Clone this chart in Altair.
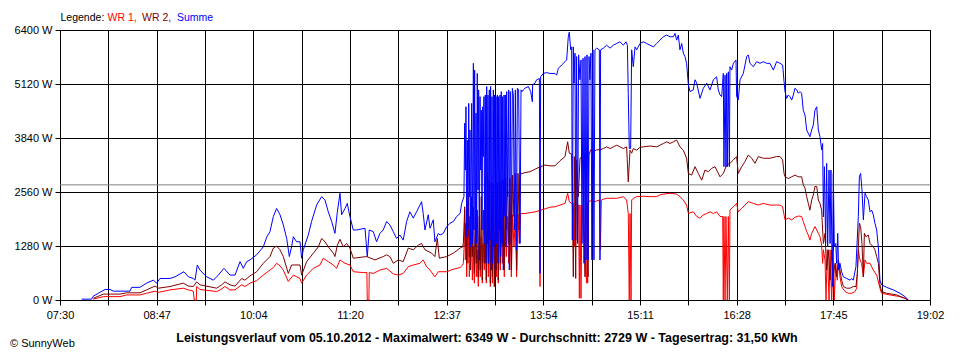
import altair as alt
import pandas as pd

# time = minutes since midnight, value = power in W
SUMME = [
    (467.2, 20), (475.2, 20), (476.5, 90), (480.5, 160), (485.8, 250), (489.8, 250),
    (492.4, 210), (505.7, 210), (507.0, 300), (513.6, 300), (518.9, 400), (524.2, 470),
    (526.9, 400), (529.5, 510), (537.5, 510), (541.5, 550), (548.6, 670), (552.1, 550),
    (556.0, 510), (557.4, 470), (559.2, 830), (561.3, 710), (566.7, 550), (572.0, 470),
    (575.9, 590), (580.4, 750), (585.2, 590), (589.2, 590), (593.2, 910), (595.8, 750),
    (598.5, 910),
    (601.1, 950), (606.4, 1070), (611.7, 1260), (614.4, 1490), (617.0, 1620), (619.7, 1980),
    (622.3, 2170), (625.0, 2020), (627.6, 1780), (630.3, 1460), (632.4, 1030), (634.2, 1260),
    (635.6, 1500), (638.2, 1380), (640.9, 1380), (642.2, 990), (643.5, 1190), (647.5, 1540),
    (650.1, 1860), (654.1, 2250), (658.1, 2450), (660.8, 2370), (663.4, 2090), (666.1, 1860),
    (668.7, 1580), (670.6, 2090), (672.7, 2530), (674.0, 2020), (676.7, 2170), (678.5, 2290),
    (680.6, 1980), (683.3, 1660), (685.9, 1660), (692.6, 1700), (694.4, 1030), (696.0, 1660),
    (699.2, 1620), (701.8, 1380), (704.5, 1580), (707.1, 1660), (709.8, 1860), (712.4, 1780),
    (715.1, 1620), (717.7, 1460), (720.4, 1540), (723.0, 1420), (725.7, 1860), (728.3, 2090),
    (731.0, 1940), (733.6, 2090), (736.3, 2250), (737.6, 2330), (738.9, 2050), (740.3, 1660),
    (742.9, 2020), (744.3, 1700), (746.9, 1900), (748.2, 1380), (750.9, 1580),
    (752.3, 1540), (754.9, 1580), (757.6, 1740), (760.2, 1820), (762.9, 1860), (765.5, 1980),
    (768.2, 2050), (769.5, 2290), (771.3, 2450),
    (771.9, 4190), (772.4, 3080), (772.9, 4580), (773.5, 1500), (774.0, 3790), (774.5, 1660),
    (775.1, 4660), (775.6, 2450), (776.1, 4030), (776.6, 1260), (777.4, 4660), (778.0, 1340),
    (778.8, 5610), (779.3, 1660), (779.8, 5450), (780.4, 1260), (780.9, 4430), (781.4, 1340),
    (781.9, 5370), (782.5, 2610), (783.0, 4980), (783.5, 950), (784.1, 4820), (784.6, 3080),
    (785.1, 4500), (785.7, 1660), (786.2, 4580), (786.7, 3400), (787.2, 4820), (787.8, 1340),
    (788.3, 4860), (788.8, 870), (789.4, 5060), (789.9, 1340), (790.4, 4860), (791.0, 870),
    (791.5, 4980), (792.0, 1420), (792.5, 5060), (793.1, 710), (793.6, 4820), (794.1, 870),
    (794.7, 4980), (795.2, 1260), (795.7, 4860), (796.3, 710), (796.8, 4820), (797.3, 1340),
    (797.9, 4860), (798.4, 870), (798.9, 4820), (799.4, 1660), (800.0, 4860), (800.5, 1030),
    (801.0, 4940), (801.6, 1340), (802.1, 4820), (802.6, 710), (803.2, 4860), (803.7, 1980),
    (804.2, 4860), (804.7, 1260), (805.3, 4940), (806.1, 2450), (806.9, 4980), (807.4, 710),
    (808.2, 4940), (809.0, 1340), (809.8, 5020), (810.6, 4860), (811.4, 1660), (812.2, 4980),
    (813.0, 1190), (813.8, 5020), (814.8, 4980), (815.9, 1340), (816.7, 4980), (817.5, 4940),
    (818.5, 4980),
    (819.9, 5020), (822.5, 5060), (824.4, 4940), (825.7, 4700), (825.9, 5100), (827.8, 5140),
    (829.1, 5220), (831.3, 5250), (831.8, 630), (832.3, 5290), (834.4, 5370), (837.1, 5390),
    (839.7, 5370), (843.7, 5370), (845.0, 5330), (846.4, 5490), (849.0, 5570), (851.7, 5650),
    (853.0, 5690), (854.3, 6240), (855.1, 6349), (856.2, 5930), (857.0, 6000),
    (857.5, 1420), (858.3, 6000), (858.8, 5140), (859.6, 5850), (860.2, 1420), (860.9, 5770),
    (861.7, 1340), (862.5, 5810), (863.6, 5220), (864.4, 5690), (865.2, 1340), (866.0, 5730),
    (866.8, 870), (867.6, 5770), (868.4, 950), (869.2, 5810), (870.0, 950), (870.8, 5770),
    (871.5, 5220), (872.3, 5850), (873.1, 950), (873.9, 5930), (874.7, 950), (875.5, 5930),
    (876.9, 5970), (879.0, 5930), (879.5, 950), (880.0, 5930), (882.2, 5970), (884.8, 6040),
    (887.5, 5970), (890.1, 6040), (892.8, 6080), (895.4, 6120), (898.1, 6040), (900.2, 6120),
    (901.3, 6040), (902.0, 4900), (902.8, 3590), (903.9, 3590), (904.7, 5930), (906.0, 5530),
    (907.4, 6000), (908.7, 5930), (911.3, 6080), (914.0, 6120), (916.6, 6080), (919.3, 6040),
    (922.0, 6000), (924.6, 6080), (927.2, 6160), (929.9, 6240), (932.5, 6280), (935.2, 6240),
    (937.8, 6240), (939.2, 6320), (940.5, 6160), (941.8, 6280), (943.1, 5930), (944.5, 6080),
    (945.8, 5850), (947.1, 5770), (948.4, 5610), (949.8, 5100), (951.1, 4940), (953.7, 4980),
    (955.1, 5220), (956.4, 5140), (959.1, 4780), (961.7, 5020), (964.4, 5140), (967.0, 4980),
    (969.7, 5220), (972.3, 5290), (973.6, 4980), (975.0, 4860), (976.3, 4820), (977.6, 5370),
    (978.1, 3160), (979.0, 5330), (979.7, 3160), (980.3, 5370), (980.8, 3160), (981.6, 5410),
    (982.4, 3160), (982.9, 5530), (984.2, 5450), (985.6, 5610), (987.7, 5690), (988.2, 4820),
    (989.5, 4740), (990.9, 5220), (993.5, 5370), (996.2, 5770), (997.5, 5810), (998.8, 5610),
    (1001.5, 5530), (1004.1, 5650), (1006.8, 5610), (1009.4, 5650), (1012.1, 5610), (1014.7, 5610),
    (1017.4, 5450), (1020.0, 5650), (1022.7, 5610),
    (1024.8, 5570), (1025.9, 5180), (1026.7, 4940), (1028.0, 4780), (1029.3, 4860), (1030.6, 4820),
    (1032.0, 4740), (1033.3, 4860), (1034.6, 5020), (1036.0, 4980), (1037.3, 4900), (1038.6, 4940),
    (1039.9, 4900), (1041.2, 4500), (1042.6, 4380), (1043.9, 4030), (1046.5, 3870), (1047.9, 4030),
    (1049.2, 4150), (1050.5, 4500), (1051.9, 4580), (1053.2, 4030), (1054.5, 3870), (1055.8, 3560),
    (1056.6, 3710), (1057.2, 1970), (1058.0, 3160), (1059.0, 1340), (1059.8, 3240), (1060.6, 1260),
    (1061.7, 3080), (1062.5, 1340), (1063.2, 3080), (1064.3, 320), (1065.1, 3000), (1065.9, 1260),
    (1067.0, 1340), (1067.8, 870), (1068.6, 1580), (1069.3, 710), (1070.4, 870), (1071.7, 670),
    (1073.1, 550), (1075.7, 510), (1078.4, 470), (1079.7, 510), (1081.0, 470), (1083.1, 790),
    (1085.0, 1980), (1085.8, 2920), (1086.8, 3000), (1087.9, 2610), (1089.0, 1900), (1090.3, 2530),
    (1091.6, 2450), (1092.9, 2370), (1094.3, 2090), (1095.6, 2130), (1096.9, 2020), (1098.2, 1820),
    (1099.6, 1660), (1100.9, 1260), (1102.2, 470), (1103.5, 360), (1107.5, 300), (1112.8, 240),
    (1118.1, 160), (1122.1, 80), (1124.8, 0),
]

WR2 = [
    (476.5, 40), (484.5, 140), (497.7, 140), (503.0, 170), (513.6, 170), (518.9, 240),
    (525.6, 330), (528.2, 280), (537.5, 320), (548.1, 400), (552.1, 330), (556.0, 320),
    (558.7, 430), (561.3, 360), (574.6, 280), (578.6, 360), (581.2, 430), (585.2, 360),
    (589.2, 330), (594.5, 510), (597.1, 470),
    (601.1, 570), (606.4, 670), (611.7, 870), (617.0, 1030), (619.7, 1230), (622.3, 1280),
    (625.0, 1190), (627.6, 1030), (631.6, 630), (634.2, 830), (640.9, 830), (642.2, 590),
    (646.2, 910), (651.5, 1110), (655.5, 1260), (658.1, 1460), (660.8, 1380), (663.4, 1260),
    (667.4, 1110), (668.7, 1030), (670.6, 1300), (672.7, 1440), (675.3, 1260), (678.0, 1340),
    (680.6, 1230), (683.3, 990), (693.9, 1030), (700.5, 950), (707.1, 1030), (709.8, 1070),
    (712.4, 1030), (715.1, 870), (719.1, 950), (723.0, 910), (727.0, 1230), (731.0, 1190),
    (735.0, 1300), (737.6, 1340), (740.3, 1190), (745.6, 1110), (748.2, 1030), (750.1, 1460),
    (751.7, 990), (757.6, 1030), (762.9, 1110), (768.2, 1230), (770.3, 1260),
    (770.8, 1340), (771.3, 1660), (771.9, 2210), (772.4, 1260), (772.9, 1820), (773.5, 870),
    (774.0, 2290), (774.5, 1500), (775.1, 2530), (775.6, 1030), (776.1, 1980), (776.6, 710),
    (777.4, 2450), (778.0, 1030), (778.8, 2210), (779.6, 630), (780.4, 1980), (781.2, 870),
    (781.9, 2130), (782.7, 550), (783.5, 1980), (784.3, 710), (785.1, 2450), (785.9, 470),
    (786.7, 2130), (787.5, 870), (788.3, 2920), (789.1, 470), (789.9, 3000), (790.7, 870),
    (791.5, 2840), (792.3, 400), (793.1, 2770), (793.9, 550), (794.7, 2770), (795.5, 320),
    (796.3, 2730), (797.1, 710), (797.9, 2770), (798.6, 470), (799.4, 2800), (800.2, 870),
    (801.0, 2840), (801.8, 1260), (802.6, 2840), (803.4, 710), (804.2, 2880), (805.0, 1660),
    (805.8, 2920), (806.9, 1340), (807.9, 2880), (809.0, 710), (810.0, 2960), (811.1, 1980),
    (812.2, 3000), (813.2, 710), (814.3, 3000), (815.3, 1660), (816.4, 3000), (817.5, 3000),
    (819.9, 3020), (823.8, 3040), (827.8, 3100), (831.3, 3150), (831.8, 1340), (832.3, 3160),
    (835.8, 3200), (839.7, 3180), (843.7, 3180), (847.7, 3300), (851.7, 3400), (853.8, 3750),
    (855.1, 3480), (857.0, 3460),
    (858.3, 550), (859.1, 3400), (860.2, 510), (860.9, 3320), (862.3, 2450), (863.6, 3360),
    (865.7, 3400), (867.6, 550), (868.4, 3480), (870.0, 550), (870.8, 3440), (872.1, 3560),
    (874.2, 3520), (876.9, 3560), (879.5, 3560), (882.2, 3590), (884.8, 3630),
    (887.5, 3590), (890.1, 3630), (892.8, 3670), (895.4, 3630), (898.1, 3590), (900.7, 3630),
    (902.0, 2800), (903.4, 3550), (904.7, 3480), (906.0, 3590), (908.7, 3550), (911.3, 3620),
    (914.0, 3630), (919.3, 3650), (924.6, 3630), (927.2, 3670), (929.9, 3710), (932.5, 3750),
    (935.2, 3710), (937.8, 3750), (940.5, 3790), (943.1, 3630), (945.8, 3550), (948.4, 3360),
    (949.8, 3000), (952.4, 2960), (955.1, 3160), (957.7, 3000), (960.4, 2840), (963.0, 3080),
    (965.7, 3040), (968.3, 3120), (971.0, 3160), (972.3, 3080), (975.0, 2920), (977.6, 3000),
    (980.3, 3200), (982.9, 3240), (985.6, 3320), (988.2, 3400), (989.5, 3000), (992.2, 3160),
    (994.8, 3280), (997.5, 3440), (1000.1, 3360), (1002.8, 3240), (1005.4, 3400), (1009.4, 3360),
    (1014.7, 3360), (1020.0, 3400),
    (1022.7, 3400), (1024.8, 3320), (1025.9, 3000), (1026.7, 2920), (1029.3, 2880), (1032.0, 2920),
    (1034.6, 2960), (1037.3, 2920), (1039.9, 2920), (1041.2, 2730), (1042.6, 2650), (1043.9, 2450),
    (1045.2, 2290), (1046.5, 2130), (1047.9, 2370), (1049.2, 2490), (1050.5, 2690), (1051.9, 2690),
    (1053.2, 2370), (1054.5, 2290), (1055.8, 2130), (1056.6, 1660), (1057.2, 1340), (1058.5, 1580),
    (1059.8, 710), (1061.1, 1190), (1062.5, 470), (1063.8, 1190), (1065.1, 550), (1066.4, 870),
    (1067.8, 550), (1069.1, 950), (1070.4, 710), (1071.7, 470), (1073.1, 320), (1075.7, 280),
    (1078.4, 280), (1081.0, 320), (1083.1, 320), (1084.2, 630), (1085.8, 1820), (1086.8, 1740),
    (1087.9, 1340), (1089.0, 550), (1089.8, 1580), (1091.1, 1500), (1092.9, 1540), (1094.3, 1340),
    (1096.9, 1260), (1098.2, 1190), (1099.6, 1030), (1100.9, 870), (1102.2, 360), (1103.5, 200),
    (1107.5, 160), (1115.5, 120), (1122.1, 40), (1124.8, 0),
]

WR1 = [
    (476.5, 20), (484.5, 80), (497.7, 80), (503.0, 120), (513.6, 120), (518.9, 160),
    (525.6, 210), (528.2, 180), (537.5, 240), (548.1, 280), (552.1, 240), (556.0, 210),
    (556.8, 0), (558.4, 0), (558.7, 320), (561.3, 250), (574.6, 200), (577.3, 240),
    (581.2, 320), (585.2, 240), (589.2, 240), (594.5, 360), (597.1, 320),
    (601.1, 400), (606.4, 460), (611.7, 590), (617.0, 710), (619.7, 770), (622.3, 870),
    (625.0, 810), (627.6, 710), (631.6, 440), (635.6, 590), (640.9, 510), (642.2, 400),
    (646.2, 590), (651.5, 750), (656.8, 830), (659.4, 990), (663.4, 910), (667.4, 830),
    (670.0, 750), (672.7, 950), (676.7, 870), (680.6, 830), (683.3, 670), (691.2, 650),
    (694.1, 650), (694.4, 0), (695.7, 0), (696.0, 650), (699.2, 630), (704.5, 710),
    (709.8, 750), (715.1, 620), (719.1, 590), (723.0, 630), (727.0, 790), (731.0, 830),
    (736.3, 870), (738.9, 950), (741.6, 790), (744.3, 710), (748.2, 550), (750.9, 670),
    (757.6, 670), (762.9, 730), (768.2, 770), (770.3, 830),
    (770.8, 870), (771.3, 1190), (771.9, 2130), (772.4, 950), (772.9, 1660), (773.5, 550),
    (774.0, 1500), (774.5, 870), (775.1, 1980), (775.6, 550), (776.1, 1340), (776.6, 870),
    (777.4, 1660), (778.0, 470), (778.8, 1260), (779.6, 400), (780.4, 1500), (781.2, 550),
    (781.9, 1190), (782.7, 320), (783.5, 1340), (784.3, 550), (785.1, 1500), (785.9, 400),
    (786.7, 1340), (787.5, 710), (788.3, 1980), (789.1, 400), (789.9, 1660), (790.7, 550),
    (791.5, 1980), (792.3, 320), (793.1, 1660), (793.9, 400), (794.7, 1820), (795.5, 320),
    (796.3, 1660), (797.1, 550), (797.9, 1940), (798.6, 400), (799.4, 1940), (800.2, 710),
    (801.0, 1940), (801.8, 870), (802.6, 1950), (803.4, 550), (804.2, 1960), (805.0, 1030),
    (805.8, 1980), (806.9, 870), (807.9, 1980), (809.0, 550), (810.0, 2020), (811.1, 1260),
    (812.2, 2020), (813.2, 550), (814.3, 2030), (815.3, 1340), (816.4, 2050), (817.5, 2050),
    (819.9, 2050), (823.8, 2070), (827.8, 2090), (831.3, 2120), (831.8, 320), (832.3, 2130),
    (835.8, 2160), (839.7, 2200), (843.7, 2210), (847.7, 2250), (851.7, 2290), (853.8, 2530),
    (855.1, 2330), (857.0, 2290),
    (858.3, 2290), (859.1, 1260), (859.6, 2290), (862.5, 2250), (863.1, 40), (863.6, 2250),
    (864.4, 40), (865.2, 2250), (868.9, 400), (869.2, 2290), (869.7, 400), (870.0, 2330),
    (872.1, 2350), (872.9, 2370), (875.5, 2330), (876.9, 2350), (879.0, 2370), (879.8, 1190),
    (880.6, 2370), (882.2, 2390), (884.8, 2410),
    (887.5, 2410), (892.8, 2410), (898.1, 2450), (900.7, 2370), (902.0, 2050), (902.8, 0),
    (903.4, 2050), (904.2, 0), (904.7, 2370), (906.0, 2410), (908.7, 2450), (914.0, 2460),
    (919.3, 2450), (924.6, 2450), (927.2, 2490), (929.9, 2510), (935.2, 2530), (940.5, 2510),
    (943.1, 2450), (945.8, 2370), (948.4, 2250), (949.8, 2050), (953.7, 2090), (956.4, 1980),
    (959.1, 1940), (961.7, 2020), (964.4, 2050), (967.0, 2090), (969.7, 2050), (972.3, 2090),
    (975.0, 1980), (977.1, 1980), (977.6, 0), (978.1, 1980), (979.0, 0), (979.7, 1980),
    (980.8, 0), (981.6, 1980), (982.4, 0), (982.9, 2130), (985.6, 2210), (988.2, 2290),
    (989.5, 2090), (992.2, 2170), (994.8, 2250), (997.5, 2330), (1001.5, 2290), (1005.4, 2250),
    (1009.4, 2290), (1014.7, 2250), (1020.0, 2250),
    (1022.7, 2250), (1024.8, 2210), (1025.9, 2020), (1026.7, 1900), (1029.3, 1940), (1032.0, 1900),
    (1034.6, 1960), (1037.3, 1990), (1039.9, 1980), (1041.2, 1860), (1042.6, 1740), (1043.9, 1620),
    (1045.2, 1540), (1046.5, 1420), (1047.9, 1580), (1049.2, 1660), (1050.5, 1740), (1051.9, 1660),
    (1053.2, 1580), (1054.5, 1500), (1055.8, 1300), (1056.6, 870), (1057.2, 1190), (1058.5, 950),
    (1059.3, 0), (1060.3, 1190), (1061.7, 0), (1062.5, 1190), (1063.8, 0), (1065.1, 1190),
    (1065.9, 0), (1067.0, 870), (1068.3, 470), (1069.1, 950), (1070.4, 550), (1071.7, 320),
    (1074.4, 200), (1077.0, 160), (1079.7, 160), (1082.3, 200), (1083.7, 280), (1085.0, 1190),
    (1086.3, 950), (1087.6, 870), (1089.0, 550), (1090.3, 950), (1091.6, 870), (1094.3, 870),
    (1096.9, 710), (1099.6, 590), (1102.2, 280), (1103.5, 160), (1110.2, 120), (1118.1, 80),
    (1122.1, 40), (1124.8, 0),
]

AVERAGE_W = 2729
X_START, X_END = 450, 1142          # 07:30 .. 19:02 in minutes
Y_TICKS = [0, 1280, 2560, 3840, 5120, 6400]
X_LABELS = ["07:30", "08:47", "10:04", "11:20", "12:37", "13:54", "15:11", "16:28", "17:45", "19:02"]
LEGEND = [("Legende:", "#000000"), ("WR 1,", "#ff0000"), ("WR 2,", "#800000"), ("Summe", "#0000ff")]
FOOTER = "Leistungsverlauf vom 05.10.2012 - Maximalwert: 6349 W - Durchschnitt: 2729 W - Tagesertrag: 31,50 kWh"
COPYRIGHT = "\u00a9 SunnyWeb"

FONT = "Liberation Sans, Arial, sans-serif"

step = (X_END - X_START) / 18
x_vals = [X_START + i * step for i in range(19)]
lab_arr = [X_LABELS[i // 2] if i % 2 == 0 else "" for i in range(19)]
label_expr = "[" + ",".join("'" + s + "'" for s in lab_arr) + "]" + \
    f"[round((datum.value - {X_START}) / {step})]"

xscale = alt.Scale(domain=[X_START, X_END], nice=False, zero=False)
yscale = alt.Scale(domain=[0, 6400], nice=False)
xaxis = alt.Axis(values=x_vals, labelExpr=label_expr, title=None, grid=True,
                 labelOverlap=False, labelFlush=False)
yaxis = alt.Axis(values=Y_TICKS, labelExpr="datum.value + ' W'", title=None, grid=True,
                 labelOverlap=False)


def series(points, color):
    df = pd.DataFrame(sorted(points), columns=["t", "w"])
    df["i"] = range(len(df))
    return alt.Chart(df).mark_line(color=color, strokeWidth=1, interpolate="linear").encode(
        x=alt.X("t:Q", scale=xscale, axis=xaxis),
        y=alt.Y("w:Q", scale=yscale, axis=yaxis),
        order="i:Q",
    )


avg = alt.Chart(pd.DataFrame({"avg": [AVERAGE_W]})).mark_rule(color="#808080", strokeWidth=1).encode(
    y=alt.Y("avg:Q", scale=yscale, axis=yaxis)
)

legend_x = [0.5, 47.5, 82, 117]
texts = []
for (s, c), px in zip(LEGEND, legend_x):
    texts.append(
        alt.Chart(pd.DataFrame({"s": [s]})).mark_text(
            align="left", baseline="alphabetic", font=FONT, fontSize=10.5, color=c
        ).encode(text="s:N", x=alt.value(px), y=alt.value(-9))
    )

footer = alt.Chart(pd.DataFrame({"s": [FOOTER]})).mark_text(
    align="center", baseline="alphabetic", font=FONT,
    fontSize=12.5, fontWeight="bold", color="#000000"
).encode(text="s:N", x=alt.value(427), y=alt.value(312))

copyright_t = alt.Chart(pd.DataFrame({"s": [COPYRIGHT]})).mark_text(
    align="left", baseline="alphabetic", font=FONT, fontSize=11, color="#000000"
).encode(text="s:N", x=alt.value(-50), y=alt.value(317))

chart = alt.layer(
    avg,
    series(WR1, "#ff0000"),
    series(WR2, "#800000"),
    series(SUMME, "#0000ff"),
    *texts, footer, copyright_t,
).properties(
    width=870, height=270,
    padding={"left": 52, "top": 22, "right": 20, "bottom": 52},
    autosize=alt.AutoSizeParams(type="none"),
    background="white",
).configure_view(
    stroke="#000000", strokeWidth=1
).configure_axis(
    domainColor="#000000", tickColor="#000000", gridColor="#000000", gridOpacity=1,
    gridWidth=1, domainWidth=1, tickWidth=1, tickSize=5,
    labelColor="#000000", labelFont=FONT, labelFontSize=11, labelPadding=3,
).configure_axisX(labelPadding=4)

chart.save("out.html", embed_options={"renderer": "svg", "actions": False})
